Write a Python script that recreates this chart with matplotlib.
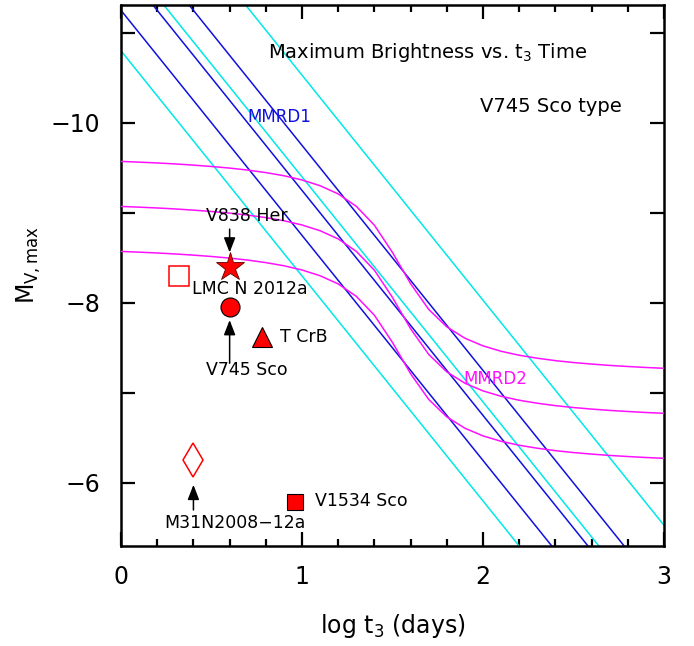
import numpy as np
import matplotlib
matplotlib.use("Agg")
import matplotlib.pyplot as plt
from matplotlib.ticker import MultipleLocator, FixedLocator

plt.rcParams['font.family'] = ['DejaVu Sans']
plt.rcParams['mathtext.fontset'] = 'dejavusans'

# ---- data ----
# MMRD1 (blue) and scatter band (cyan): M = intercept + slope * log t3
mmrd1_slope = 2.5
mmrd1_intercepts = [-11.25, -11.75, -12.25]
cyan_intercepts = [-10.80, -11.90, -13.03]

# MMRD2 (magenta), middle curve sampled values; other curves offset
mmrd2_logt3 = [0.0, 0.1, 0.2, 0.3, 0.4, 0.5, 0.6, 0.7, 0.8, 0.9, 1.0,
               1.1, 1.2, 1.3, 1.4, 1.5, 1.6, 1.7, 1.8, 1.9, 2.0,
               2.1, 2.2, 2.3, 2.4, 2.5, 2.6, 2.7, 2.8, 2.9, 3.0]
mmrd2_mid = [-9.072, -9.064, -9.055, -9.044, -9.031, -9.016, -8.998, -8.976,
             -8.948, -8.913, -8.866, -8.802, -8.711, -8.573, -8.363, -8.060,
             -7.713, -7.428, -7.234, -7.108, -7.023, -6.963, -6.919, -6.886,
             -6.859, -6.838, -6.821, -6.806, -6.794, -6.783, -6.774]
mmrd2_offsets = [-0.5, 0.0, 0.5]

# novae
nova_names = ['V838 Her', 'LMC N 2012a', 'V745 Sco', 'T CrB', 'M31N2008\u221212a', 'V1534 Sco']
nova_logt3 = [0.60, 0.32, 0.60, 0.78, 0.40, 0.96]
nova_mv = [-8.40, -8.30, -7.95, -7.62, -6.25, -5.79]

fig = plt.figure(figsize=(6.94, 6.46), dpi=100)
ax = fig.add_axes([0.1744, 0.1548, 0.7824, 0.8375])

xx = np.array([0.0, 3.0])
for b in cyan_intercepts:
    ax.plot(xx, b + mmrd1_slope * xx, color='#00e8e8', lw=1.1, zorder=2)
for b in mmrd1_intercepts:
    ax.plot(xx, b + mmrd1_slope * xx, color='#1010e0', lw=1.1, zorder=2)
for off in mmrd2_offsets:
    ax.plot(mmrd2_logt3, np.array(mmrd2_mid) + off, color='#ff10ff', lw=1.1, zorder=3)

# markers
ax.plot(nova_logt3[0], nova_mv[0], marker='*', ms=21, mfc='red', mec='#600000', mew=0.6, ls='none', zorder=5)
ax.plot(nova_logt3[1], nova_mv[1], marker='s', ms=14.4, mfc='none', mec='red', mew=1.1, ls='none', zorder=5)
ax.plot(nova_logt3[2], nova_mv[2], marker='o', ms=13.7, mfc='red', mec='black', mew=0.8, ls='none', zorder=5)
ax.plot(nova_logt3[3], nova_mv[3], marker='^', ms=15, mfc='red', mec='black', mew=0.8, ls='none', zorder=5)
ax.plot(nova_logt3[4], nova_mv[4], marker='d', ms=17.3, mfc='none', mec='red', mew=1.1, ls='none', zorder=5)
ax.plot(nova_logt3[5], nova_mv[5], marker='s', ms=11, mfc='red', mec='black', mew=0.8, ls='none', zorder=5)

fs_lab = 12.5
ap = dict(arrowstyle='-|>,head_length=0.9,head_width=0.35', color='black', lw=1.1, shrinkA=0, shrinkB=0)
# V838 Her: arrow from above
ax.annotate('', xy=(nova_logt3[0], nova_mv[0] - 0.16), xytext=(nova_logt3[0], nova_mv[0] - 0.42),
            arrowprops=ap, zorder=6)
ax.text(0.696, -8.97, nova_names[0], fontsize=fs_lab, ha='center', va='center', zorder=6)
# LMC N 2012a
ax.text(0.392, -8.15, nova_names[1], fontsize=fs_lab, ha='left', va='center', zorder=6)
# V745 Sco: arrow from below
ax.annotate('', xy=(nova_logt3[2], nova_mv[2] + 0.14), xytext=(nova_logt3[2], nova_mv[2] + 0.62),
            arrowprops=ap, zorder=6)
ax.text(0.696, -7.26, nova_names[2], fontsize=fs_lab, ha='center', va='center', zorder=6)
# T CrB
ax.text(0.878, -7.62, nova_names[3], fontsize=fs_lab, ha='left', va='center', zorder=6)
# M31N2008-12a
ax.annotate('', xy=(nova_logt3[4], nova_mv[4] + 0.27), xytext=(nova_logt3[4], nova_mv[4] + 0.55),
            arrowprops=ap, zorder=6)
ax.text(0.63, -5.56, nova_names[4], fontsize=fs_lab, ha='center', va='center', zorder=6)
# V1534 Sco
ax.text(1.072, -5.80, nova_names[5], fontsize=fs_lab, ha='left', va='center', zorder=6)

# line labels
ax.text(0.873, -10.07, 'MMRD1', color='#1010e0', fontsize=12, ha='center', va='center', zorder=6)
ax.text(2.066, -7.16, 'MMRD2', color='#ff10ff', fontsize=12, ha='center', va='center', zorder=6)

ax.text(0.565, 0.913, r'Maximum Brightness vs. t$_3$ Time', transform=ax.transAxes,
        fontsize=14, ha='center', va='center')
ax.text(0.792, 0.813, 'V745 Sco type', transform=ax.transAxes,
        fontsize=14, ha='center', va='center')

ax.set_xlim(0, 3)
ax.set_ylim(-5.3, -11.31)

ax.xaxis.set_major_locator(FixedLocator([0, 1, 2, 3]))
ax.xaxis.set_minor_locator(MultipleLocator(0.2))
ax.set_xticklabels(['0', '1', '2', '3'])
ax.yaxis.set_major_locator(FixedLocator([-11, -10, -9, -8, -7, -6]))
ax.set_yticklabels(['', '\u221210', '', '\u22128', '', '\u22126'])

ax.tick_params(axis='both', which='both', direction='in', top=True, right=True, width=1.6, labelsize=17)
ax.tick_params(axis='x', which='major', length=10, pad=13.5)
ax.tick_params(axis='x', which='minor', length=5)
ax.tick_params(axis='y', which='major', length=10, pad=15)
for s in ax.spines.values():
    s.set_linewidth(1.8)

ax.set_xlabel(r'log t$_3$ (days)', fontsize=17)
ax.set_ylabel(r'M$_{\rm V,max}$', fontsize=17)
ax.xaxis.set_label_coords(0.5, -0.122)
ax.yaxis.set_label_coords(-0.144, 0.519)

fig.savefig('out.png', dpi=100)
